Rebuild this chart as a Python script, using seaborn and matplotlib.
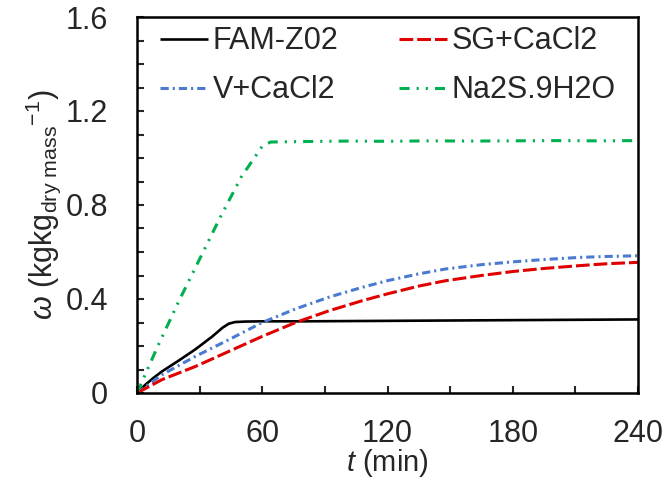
import numpy as np
import pandas as pd
import matplotlib
matplotlib.use('Agg')
import matplotlib.pyplot as plt
import seaborn as sns
from matplotlib.ticker import MultipleLocator, FuncFormatter

sns.set_style('ticks')
plt.rcParams['font.family'] = ['Liberation Sans', 'DejaVu Sans']
plt.rcParams['mathtext.fontset'] = 'custom'
plt.rcParams['mathtext.rm'] = 'Liberation Sans'
plt.rcParams['mathtext.it'] = 'Liberation Sans:italic'

# 数据
t_fam = [0, 4, 8, 12, 20, 28, 36, 41, 44, 47, 52, 60, 80, 100, 120, 140, 160, 180, 200, 220, 240]
w_fam = [0, 0.035, 0.065, 0.092, 0.138, 0.186, 0.240, 0.278, 0.295, 0.302, 0.304, 0.305, 0.305, 0.306, 0.307, 0.308, 0.309, 0.310, 0.311, 0.312, 0.313]

t_sg = [0, 12, 28, 44, 60, 76, 92, 108, 120, 135, 148, 165, 180, 195, 212, 225, 240]
w_sg = [0, 0.057, 0.113, 0.177, 0.241, 0.300, 0.350, 0.393, 0.422, 0.455, 0.478, 0.500, 0.517, 0.530, 0.542, 0.550, 0.556]

t_v = [0, 12, 28, 44, 60, 76, 92, 108, 120, 135, 148, 165, 180, 195, 212, 225, 240]
w_v = [0, 0.078, 0.156, 0.227, 0.300, 0.358, 0.408, 0.450, 0.478, 0.507, 0.528, 0.546, 0.558, 0.568, 0.577, 0.581, 0.584]

t_na = [0, 5, 10, 20, 30, 40, 50, 60, 64, 80, 100, 120, 140, 160, 180, 200, 220, 240]
w_na = [0, 0.10, 0.20, 0.39, 0.57, 0.75, 0.92, 1.05, 1.068, 1.070, 1.072, 1.071, 1.073, 1.072, 1.073, 1.074, 1.073, 1.074]

fig = plt.figure(figsize=(6.67, 4.9), dpi=100)
ax = fig.add_axes([137 / 667, 1 - 393 / 490, 501 / 667, 376 / 490])

series = [
    ('FAM-Z02', t_fam, w_fam, 'black', (0, ()), 1.9),
    ('V+CaCl2', t_v, w_v, '#4A7BD0', (0, (2.7, 1.3, 0.7, 1.3)), 2.2),
    ('SG+CaCl2', t_sg, w_sg, '#E00000', (0, (4.5, 1.3)), 2.2),
    ('Na2S.9H2O', t_na, w_na, '#00B050', (0, (3.3, 2.3, 0.7, 2.3, 0.7, 2.3)), 2.2),
]
for name, t, w, c, ls, lw in series:
    df = pd.DataFrame({'t': t, 'w': w})
    sns.lineplot(data=df, x='t', y='w', ax=ax, color=c, lw=lw, label=name, linestyle=ls)

ax.set_xlim(0, 240)
ax.set_ylim(0, 1.6)
ax.xaxis.set_major_locator(MultipleLocator(60))
ax.xaxis.set_minor_locator(MultipleLocator(30))
ax.yaxis.set_major_locator(MultipleLocator(0.4))
ax.yaxis.set_minor_locator(MultipleLocator(0.1))
ax.yaxis.set_major_formatter(FuncFormatter(lambda v, p: '0' if abs(v) < 1e-9 else f'{v:.1f}'))
ax.tick_params(which='both', direction='in', length=5, width=1.5, labelsize=22)
ax.tick_params(axis='x', pad=19)
ax.tick_params(axis='y', pad=21)
for s in ax.spines.values():
    s.set_linewidth(1.8)
    s.set_color('black')

ax.set_xlabel(r'$t$ (min)', fontsize=21, labelpad=-2)
ax.set_ylabel(r'$\omega$ (kgkg$_{\mathrm{dry\ mass}}$$^{-1}$)', fontsize=22, labelpad=2)

ax.legend(ncol=2, frameon=False, loc='upper left', bbox_to_anchor=(23 / 501, 0.975),
          fontsize=22, handlelength=1.57, handletextpad=0.15, columnspacing=2.0,
          borderpad=0, borderaxespad=0, labelspacing=0.62)

fig.savefig('out.png', dpi=100)
